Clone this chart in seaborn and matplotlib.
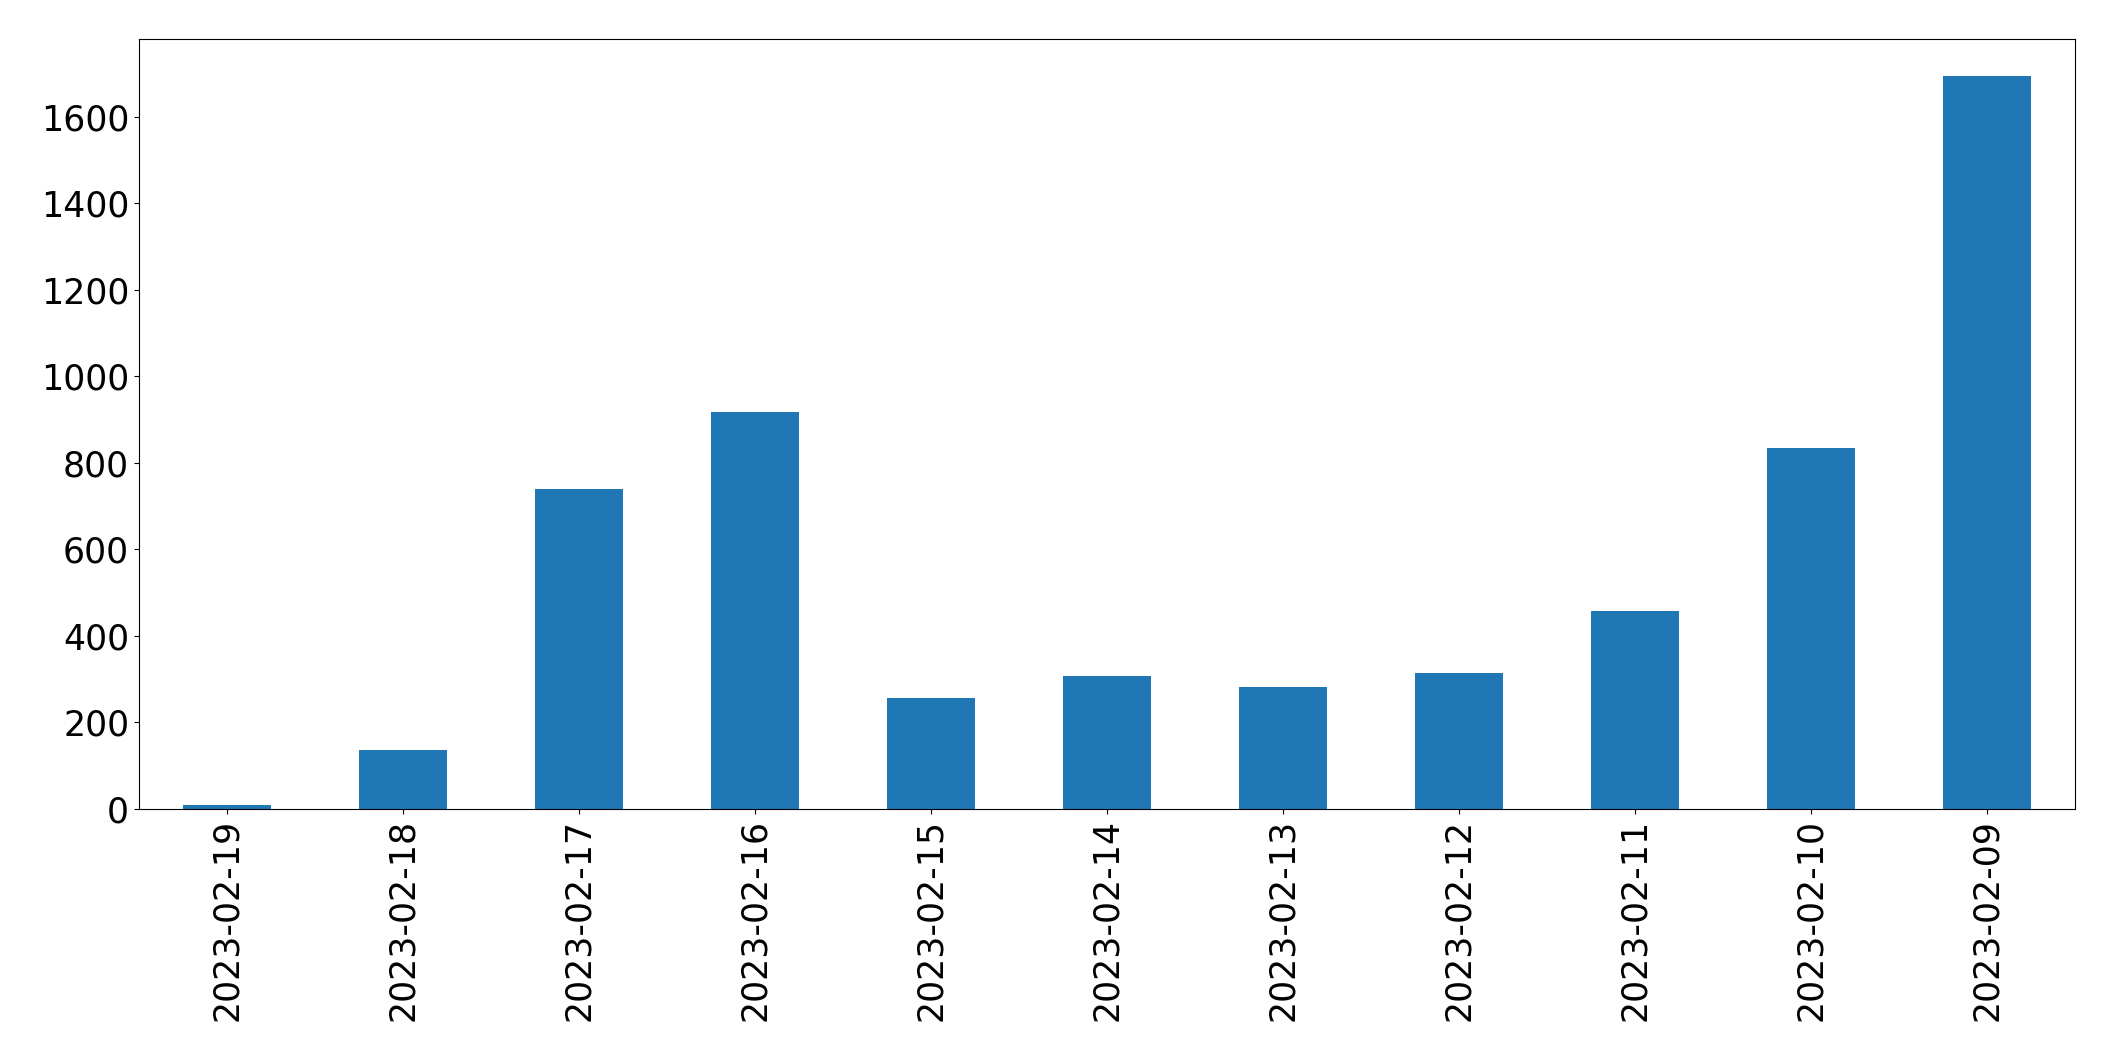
import matplotlib
matplotlib.use("Agg")
import matplotlib.pyplot as plt
import seaborn as sns
import pandas as pd

dates = ['2023-02-19', '2023-02-18', '2023-02-17', '2023-02-16', '2023-02-15',
         '2023-02-14', '2023-02-13', '2023-02-12', '2023-02-11', '2023-02-10',
         '2023-02-09']
counts = [9, 136, 740, 917, 257, 307, 282, 314, 458, 834, 1694]

df = pd.DataFrame({'date': dates, 'count': counts})

fig = plt.figure(figsize=(21.15, 10.61), dpi=100)
ax = fig.add_axes([0.0657, 0.2375, 0.9153, 0.7255])

sns.barplot(data=df, x='date', y='count', color='#1f77b4', saturation=1,
            width=0.5, ax=ax, order=dates)

ax.set_xlabel('')
ax.set_ylabel('')
ax.tick_params(axis='both', labelsize=25)
ax.tick_params(axis='x', labelrotation=90)
ax.set_xlim(-0.5, len(dates) - 0.5)
ax.set_ylim(0, max(counts) * 1.05)

plt.savefig("out.png", dpi=100)
